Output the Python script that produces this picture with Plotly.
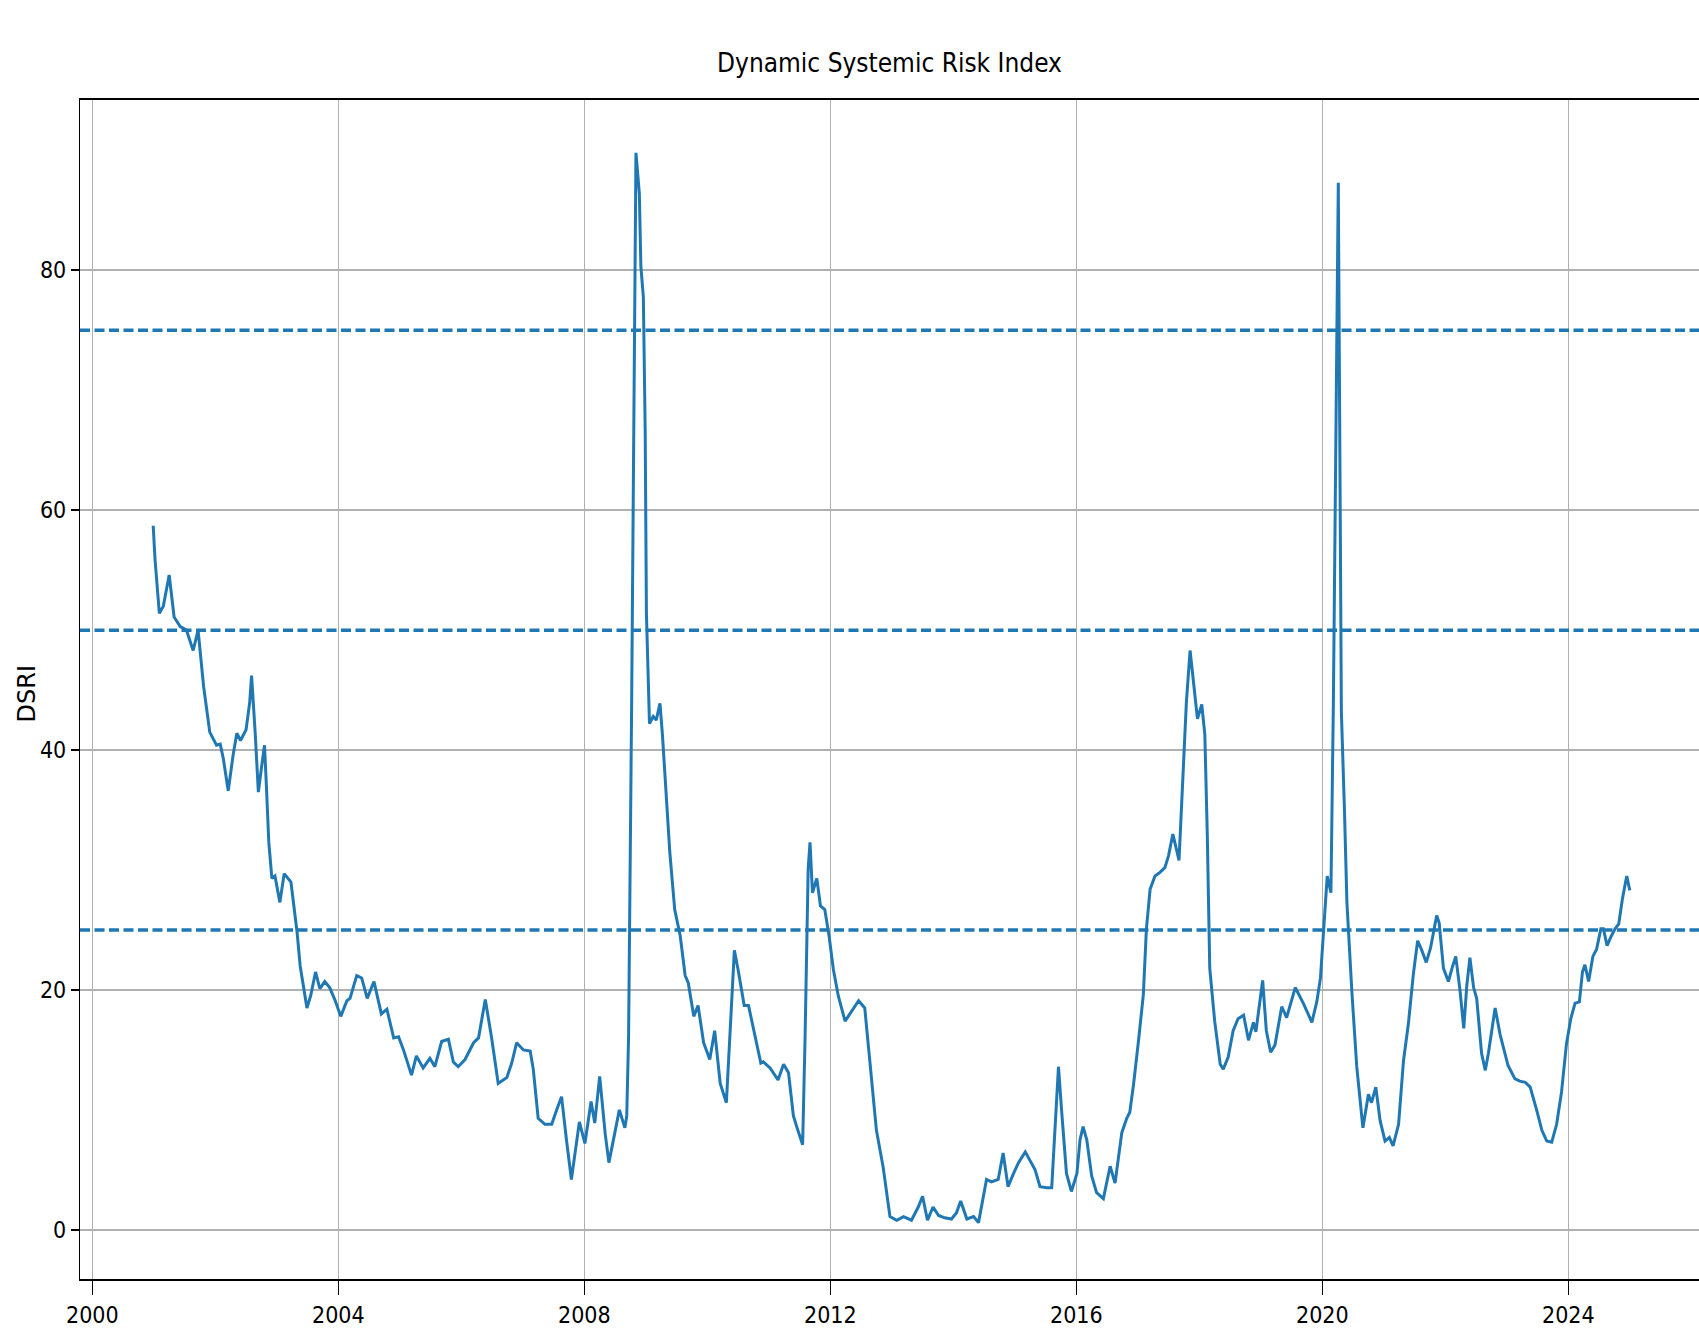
import plotly.graph_objects as go

# ---- data ----
years = [
    2000.99, 2001.02, 2001.09, 2001.155, 2001.25, 2001.33, 2001.43, 2001.53, 2001.64, 2001.72,
    2001.81, 2001.87, 2001.91, 2002.02, 2002.08, 2002.13, 2002.21, 2002.29, 2002.35, 2002.41,
    2002.50, 2002.56, 2002.59, 2002.65, 2002.70, 2002.75, 2002.80, 2002.83, 2002.87, 2002.92,
    2002.97, 2003.05, 2003.12, 2003.23, 2003.27, 2003.33, 2003.38, 2003.49, 2003.55, 2003.63,
    2003.70, 2003.78, 2003.86, 2003.95, 2004.04, 2004.14, 2004.19, 2004.30, 2004.38, 2004.47,
    2004.58, 2004.70, 2004.79, 2004.90, 2004.98, 2005.06, 2005.19, 2005.27, 2005.38, 2005.49,
    2005.57, 2005.68, 2005.79, 2005.87, 2005.95, 2006.06, 2006.20, 2006.28, 2006.39, 2006.49,
    2006.60, 2006.74, 2006.82, 2006.90, 2007.01, 2007.12, 2007.17, 2007.25, 2007.36, 2007.47,
    2007.55, 2007.63, 2007.71, 2007.79, 2007.92, 2008.01, 2008.11, 2008.17, 2008.25, 2008.34,
    2008.40, 2008.50, 2008.57, 2008.66, 2008.69, 2008.72, 2008.77, 2008.84, 2008.895, 2008.92,
    2008.96, 2008.99, 2009.01, 2009.06, 2009.12, 2009.17, 2009.23, 2009.27, 2009.34, 2009.39,
    2009.47, 2009.56, 2009.64, 2009.69, 2009.78, 2009.85, 2009.94, 2010.04, 2010.12, 2010.21,
    2010.31, 2010.40, 2010.44, 2010.50, 2010.60, 2010.67, 2010.78, 2010.87, 2010.91, 2011.02,
    2011.15, 2011.24, 2011.32, 2011.40, 2011.46, 2011.55, 2011.59, 2011.64, 2011.67, 2011.71,
    2011.78, 2011.84, 2011.91, 2011.98, 2012.05, 2012.13, 2012.24, 2012.35, 2012.46, 2012.56,
    2012.65, 2012.75, 2012.86, 2012.97, 2013.08, 2013.19, 2013.32, 2013.43, 2013.50, 2013.58,
    2013.67, 2013.76, 2013.86, 2013.97, 2014.05, 2014.12, 2014.22, 2014.33, 2014.41, 2014.49,
    2014.54, 2014.62, 2014.73, 2014.81, 2014.89, 2014.98, 2015.06, 2015.17, 2015.25, 2015.33,
    2015.41, 2015.52, 2015.60, 2015.65, 2015.71, 2015.76, 2015.84, 2015.92, 2016.01, 2016.06,
    2016.11, 2016.17, 2016.25, 2016.33, 2016.44, 2016.55, 2016.63, 2016.74, 2016.82, 2016.87,
    2016.93, 2017.01, 2017.09, 2017.14, 2017.20, 2017.28, 2017.36, 2017.44, 2017.50, 2017.57,
    2017.62, 2017.67, 2017.74, 2017.79, 2017.85, 2017.93, 2017.97, 2018.04, 2018.09, 2018.13,
    2018.17, 2018.25, 2018.34, 2018.39, 2018.47, 2018.55, 2018.63, 2018.72, 2018.80, 2018.88,
    2018.92, 2019.03, 2019.09, 2019.16, 2019.23, 2019.34, 2019.42, 2019.56, 2019.69, 2019.83,
    2019.91, 2019.97, 2020.03, 2020.08, 2020.14, 2020.18, 2020.26, 2020.31, 2020.36, 2020.40,
    2020.48, 2020.56, 2020.66, 2020.75, 2020.80, 2020.87, 2020.94, 2021.02, 2021.09, 2021.15,
    2021.24, 2021.32, 2021.40, 2021.48, 2021.55, 2021.61, 2021.69, 2021.76, 2021.86, 2021.90,
    2021.97, 2022.05, 2022.12, 2022.17, 2022.24, 2022.30, 2022.35, 2022.40, 2022.46, 2022.51,
    2022.59, 2022.65, 2022.70, 2022.81, 2022.89, 2022.94, 2023.02, 2023.13, 2023.21, 2023.30,
    2023.38, 2023.49, 2023.57, 2023.65, 2023.73, 2023.81, 2023.89, 2023.97, 2024.04, 2024.11,
    2024.18, 2024.23, 2024.27, 2024.33, 2024.40, 2024.46, 2024.53, 2024.57, 2024.63, 2024.70,
    2024.76, 2024.82, 2024.88, 2024.95, 2025.00,
]

dsri = [
    58.7, 55.9, 51.4, 52.0, 54.6, 51.1, 50.3, 50.0, 48.3, 50.0,
    45.3, 43.2, 41.5, 40.4, 40.5, 39.3, 36.6, 39.6, 41.4, 40.8,
    41.7, 44.0, 46.2, 41.3, 36.5, 38.5, 40.4, 37.1, 32.3, 29.3,
    29.5, 27.3, 29.7, 29.0, 27.3, 24.8, 22.0, 18.5, 19.5, 21.5,
    20.1, 20.7, 20.2, 19.1, 17.8, 19.1, 19.3, 21.2, 21.0, 19.3,
    20.7, 18.0, 18.4, 16.0, 16.1, 15.0, 12.9, 14.5, 13.5, 14.3,
    13.6, 15.7, 15.9, 14.0, 13.6, 14.2, 15.6, 16.0, 19.2, 16.1,
    12.2, 12.7, 13.9, 15.6, 15.0, 14.9, 13.4, 9.3, 8.8, 8.8,
    10.0, 11.1, 7.5, 4.2, 9.0, 7.2, 10.7, 8.9, 12.8, 8.0,
    5.6, 8.3, 10.0, 8.5, 9.5, 16.1, 44.0, 89.8, 86.4, 80.3,
    77.8, 66.6, 51.4, 42.2, 42.8, 42.5, 43.9, 41.3, 35.7, 31.5,
    26.7, 24.5, 21.2, 20.6, 17.8, 18.7, 15.6, 14.2, 16.6, 12.2,
    10.6, 19.5, 23.3, 21.7, 18.7, 18.7, 16.1, 13.9, 14.0, 13.5,
    12.5, 13.8, 13.1, 9.5, 8.5, 7.1, 16.1, 30.1, 32.3, 28.1,
    29.3, 27.0, 26.7, 24.5, 21.7, 19.5, 17.4, 18.2, 19.1, 18.5,
    13.9, 8.3, 5.2, 1.1, 0.8, 1.1, 0.8, 1.9, 2.8, 0.8,
    1.9, 1.2, 1.0, 0.9, 1.4, 2.4, 0.9, 1.1, 0.6, 2.8,
    4.2, 4.0, 4.2, 6.4, 3.6, 4.7, 5.6, 6.5, 5.8, 5.0,
    3.6, 3.5, 3.5, 8.1, 13.6, 10.0, 4.7, 3.2, 4.7, 7.5,
    8.6, 7.5, 4.5, 3.1, 2.6, 5.3, 3.9, 8.1, 9.3, 9.8,
    12.1, 15.7, 19.6, 25.1, 28.4, 29.5, 29.8, 30.2, 31.2, 33.0,
    32.0, 30.8, 38.5, 44.0, 48.3, 44.4, 42.6, 43.8, 41.3, 32.9,
    21.8, 17.4, 13.8, 13.4, 14.4, 16.6, 17.6, 17.9, 15.8, 17.3,
    16.5, 20.8, 16.6, 14.8, 15.4, 18.6, 17.7, 20.2, 18.9, 17.3,
    19.0, 21.0, 25.9, 29.5, 28.1, 44.0, 87.3, 43.2, 35.0, 27.3,
    19.9, 13.6, 8.5, 11.3, 10.6, 11.9, 9.1, 7.4, 7.7, 7.0,
    8.8, 14.1, 17.2, 21.3, 24.1, 23.4, 22.3, 23.5, 26.2, 25.6,
    21.8, 20.7, 22.0, 22.8, 19.9, 16.8, 20.4, 22.7, 20.2, 19.3,
    14.7, 13.3, 14.7, 18.5, 16.3, 15.2, 13.7, 12.6, 12.4, 12.3,
    11.9, 9.9, 8.3, 7.4, 7.3, 8.8, 11.5, 15.5, 17.6, 18.9,
    19.0, 21.5, 22.1, 20.7, 22.8, 23.4, 25.1, 25.1, 23.7, 24.5,
    25.1, 25.5, 27.6, 29.5, 28.3,
]

thresholds = [25, 50, 75]
x_tick_values = [2000, 2004, 2008, 2012, 2016, 2020, 2024]
x_tick_labels = ["2000", "2004", "2008", "2012", "2016", "2020", "2024"]
y_tick_values = [0, 20, 40, 60, 80]
y_tick_labels = ["0", "20", "40", "60", "80"]

BLUE = "#1f77b4"
GRID = "#b0b0b0"
COND = "DejaVu Sans Condensed, Liberation Sans Narrow, DejaVu Sans, sans-serif"

fig = go.Figure()
fig.add_trace(go.Scatter(
    x=years, y=dsri, mode="lines",
    line=dict(color=BLUE, width=3),
    showlegend=False, hoverinfo="skip",
))

for t in thresholds:
    fig.add_hline(y=t, line=dict(color=BLUE, width=3.5, dash="10px,4.5px"))

fig.add_annotation(
    text="DSRI", textangle=-90, showarrow=False,
    xref="paper", yref="paper", x=-0.0326, y=0.496,
    xanchor="center", yanchor="middle",
    font=dict(family="DejaVu Sans, sans-serif", size=24, color="black"),
)

fig.update_layout(
    width=1699, height=1330,
    margin=dict(l=80, r=0, t=100, b=51),
    paper_bgcolor="white", plot_bgcolor="white",
    hovermode=False,
    title=dict(
        text="Dynamic Systemic Risk Index",
        x=0.5, xanchor="center", xref="paper",
        y=1 - 63 / 1330, yanchor="middle", yref="container",
        font=dict(family=COND, size=26, color="black"),
    ),
    xaxis=dict(
        range=[1999.80, 2026.125],
        tickmode="array", tickvals=x_tick_values, ticktext=x_tick_labels,
        showgrid=True, gridcolor=GRID, gridwidth=1,
        showline=True, linecolor="black", linewidth=2, mirror=True,
        ticks="outside", ticklen=14, tickwidth=1.2, tickcolor="black",
        tickfont=dict(family=COND, size=23, color="black"),
        zeroline=False,
    ),
    yaxis=dict(
        range=[-4.1, 94.2],
        tickmode="array", tickvals=y_tick_values, ticktext=y_tick_labels,
        showgrid=True, gridcolor=GRID, gridwidth=2,
        showline=True, linecolor="black", linewidth=1.3, mirror=False,
        ticks="outside", ticklen=8, tickwidth=2, tickcolor="black",
        tickfont=dict(family=COND, size=23, color="black"),
        zeroline=False,
    ),
)

fig.write_html(
    "out.html",
    config={"displayModeBar": False},
    post_script=(
        "document.documentElement.style.overflow='hidden';"
        "document.body.style.overflow='hidden';"
        "document.body.style.margin='0';"
    ),
)
